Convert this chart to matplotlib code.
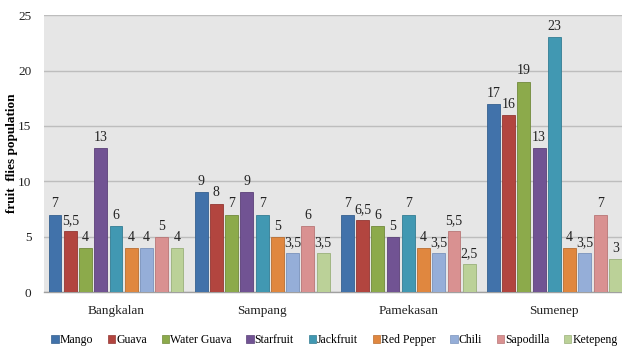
import numpy as np
import matplotlib.pyplot as plt
from matplotlib.patches import Patch

plt.rcParams['font.family'] = ['Liberation Serif', 'DejaVu Serif']

regions = ['Bangkalan', 'Sampang', 'Pamekasan', 'Sumenep']
fruits = ['Mango', 'Guava', 'Water Guava', 'Starfruit', 'Jackfruit',
          'Red Pepper', 'Chili', 'Sapodilla', 'Ketepeng']

mango = [7, 9, 7, 17]
guava = [5.5, 8, 6.5, 16]
water_guava = [4, 7, 6, 19]
starfruit = [13, 9, 5, 13]
jackfruit = [6, 7, 7, 23]
red_pepper = [4, 5, 4, 4]
chili = [4, 3.5, 3.5, 3.5]
sapodilla = [5, 6, 5.5, 7]
ketepeng = [4, 3.5, 2.5, 3]

series = [mango, guava, water_guava, starfruit, jackfruit,
          red_pepper, chili, sapodilla, ketepeng]
colors = ['#4172AA', '#B2453F', '#8CAA4B', '#715393', '#4198B2',
          '#E0873F', '#95AED8', '#D99191', '#BBD198']
edges = ['#35608F', '#933733', '#71893B', '#5B4178', '#337D93',
         '#B96E31', '#7A93BC', '#B87676', '#9AB07A']

fig = plt.figure(figsize=(6.22, 3.52), dpi=100)
ax = fig.add_axes([0.0707, 0.170, 0.93, 0.787])
ax.set_facecolor('#E6E6E6')

x = np.arange(len(regions))
step = 0.1044
width = 0.088
for i, (vals, c, e) in enumerate(zip(series, colors, edges)):
    pos = x + (i - 4) * step
    ax.bar(pos, vals, width=width, color=c, edgecolor=e, linewidth=0.6, zorder=3)
    for p, v in zip(pos, vals):
        txt = ('%g' % v).replace('.', ',')
        ax.annotate(txt, (p, v), xytext=(0, 3), textcoords='offset points',
                    ha='center', va='bottom', fontsize=10, color='#222222')

ax.set_xlim(-0.493, 3.466)
ax.set_ylim(0, 25)
ax.set_yticks(range(0, 26, 5))
ax.yaxis.grid(True, color='#BDBDBD', linewidth=1.0, zorder=0)
ax.set_axisbelow(True)
ax.set_xticks(x)
ax.set_xticklabels(regions, fontsize=9.5)
ax.tick_params(axis='both', length=0, labelsize=9.5, colors='#222222')
ax.tick_params(axis='x', pad=9)
ax.tick_params(axis='y', pad=9)
for s in ['top', 'right', 'left']:
    ax.spines[s].set_visible(False)
ax.spines['bottom'].set_color('#A0A0A0')
ax.spines['bottom'].set_linewidth(1.0)

fig.text(0.019, 0.565, 'fruit  flies population', rotation=90, ha='center',
         va='center', fontsize=9.5, fontweight='bold')

handles = [Patch(facecolor=c, edgecolor=e, linewidth=0.5) for c, e in zip(colors, edges)]
fig.legend(handles, fruits, loc='center', bbox_to_anchor=(0.538, 0.034), ncol=9,
           frameon=False, fontsize=8.5, handlelength=0.6, handleheight=0.6,
           handletextpad=0.1, columnspacing=1.25, borderpad=0)

fig.savefig('out.png', dpi=100)
